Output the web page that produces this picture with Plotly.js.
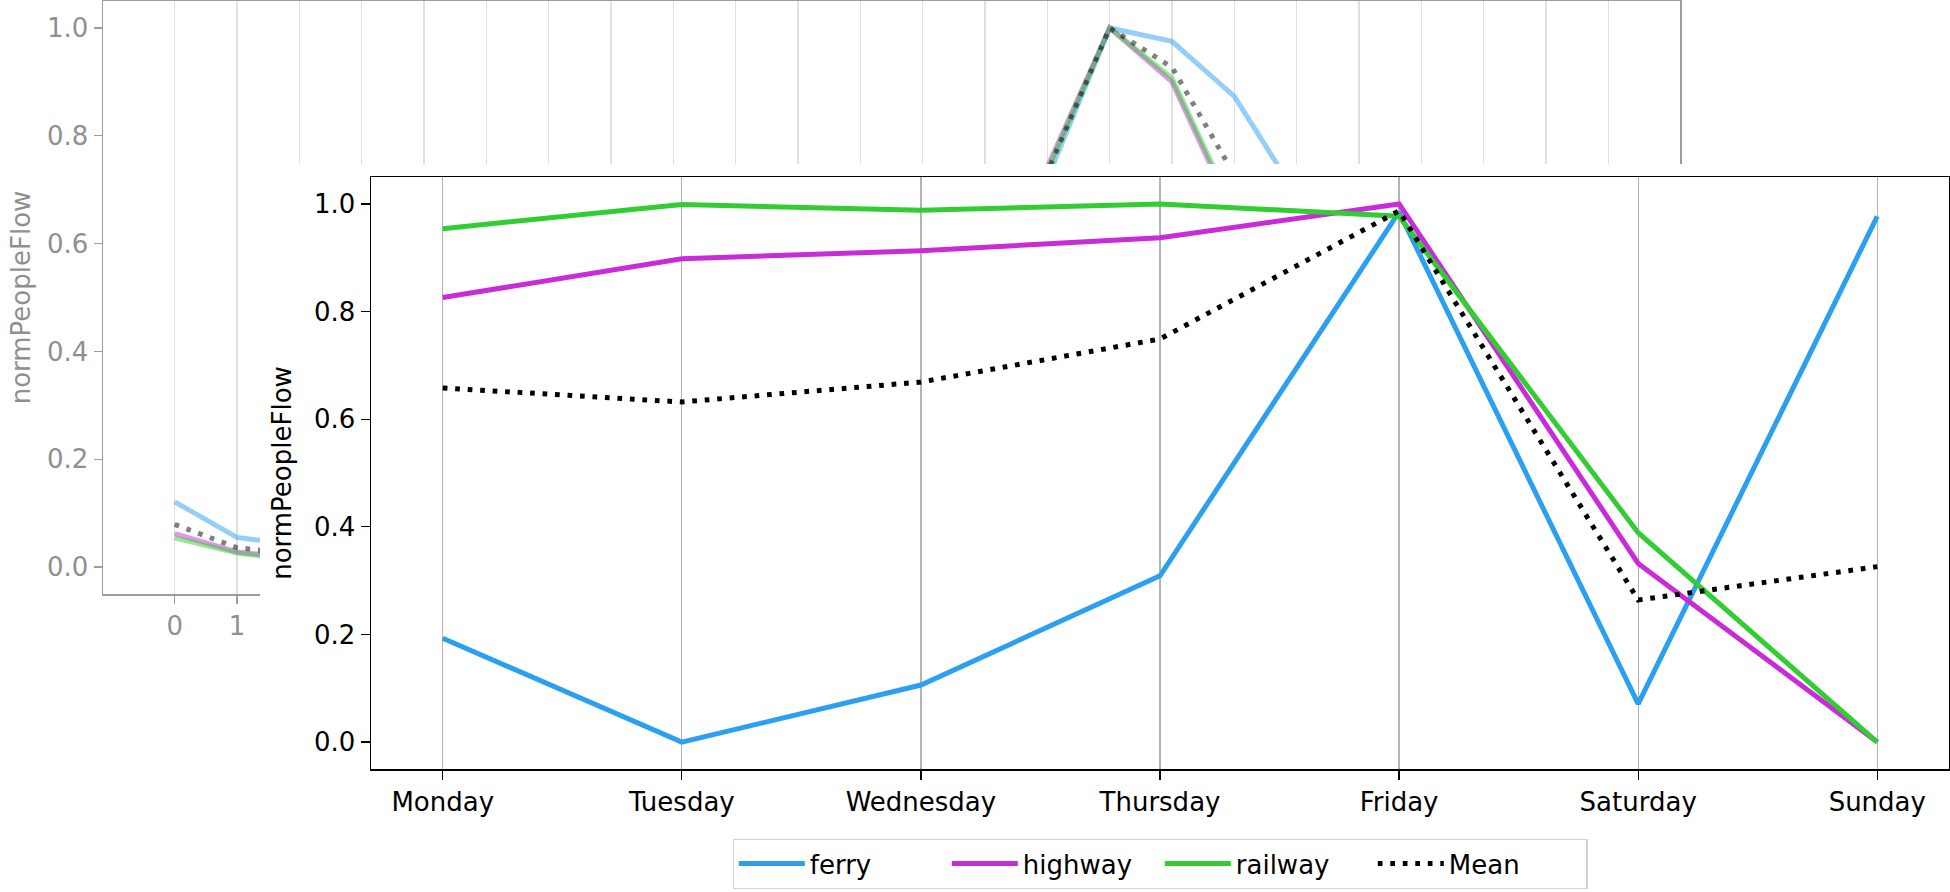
<!DOCTYPE html>
<html><head><meta charset="utf-8">
<script src="https://cdn.plot.ly/plotly-3.0.1.min.js"></script>
<style>
html,body{margin:0;padding:0;background:#fff;overflow:hidden;width:1950px;height:892px;}
#bg{position:absolute;left:0;top:0;width:1950px;height:892px;}
#inset{position:absolute;left:260px;top:164px;width:1690px;height:728px;}
</style></head><body>
<div id="bg"></div><div id="inset"></div>
<script>
// ---- background chart (hourly) ----
const hours = [0,1,2,3,4,5,6,7,8,9,10,11,12,13,14,15,16,17,18,19,20,21,22,23];
const ferryHour   = [0.121,0.055,0.040,0.035,0.040,0.080,0.180,0.330,0.450,0.520,0.570,0.600,0.630,0.670,0.720,1.000,0.975,0.873,0.690,0.550,0.430,0.340,0.260,0.190];
const highwayHour = [0.062,0.028,0.015,0.012,0.025,0.090,0.250,0.450,0.560,0.600,0.620,0.640,0.680,0.710,0.742,1.000,0.900,0.650,0.480,0.370,0.280,0.200,0.140,0.090];
const railwayHour = [0.054,0.026,0.013,0.010,0.022,0.085,0.240,0.440,0.550,0.590,0.610,0.630,0.670,0.700,0.735,1.000,0.907,0.660,0.470,0.360,0.270,0.190,0.130,0.080];
const meanHour    = [0.079,0.036,0.023,0.019,0.029,0.085,0.223,0.407,0.520,0.570,0.600,0.623,0.660,0.693,0.732,1.000,0.927,0.728,0.547,0.427,0.327,0.243,0.177,0.120];

// ---- inset chart (weekday) ----
const days = ['Monday','Tuesday','Wednesday','Thursday','Friday','Saturday','Sunday'];
const ferryDay   = [0.193,0.000,0.106,0.309,0.985,0.071,0.977];
const highwayDay = [0.826,0.898,0.913,0.937,1.000,0.332,0.000];
const railwayDay = [0.954,0.999,0.988,1.000,0.977,0.389,0.000];
const meanDay    = [0.658,0.632,0.669,0.749,0.987,0.264,0.326];

const yTicks = [0,0.2,0.4,0.6,0.8,1.0];
const yTickText = ['0.0','0.2','0.4','0.6','0.8','1.0'];

const names = ['ferry','highway','railway','Mean'];
const colors = ['#2b9ff0','#c92bd9','#32cd32','#000000'];
const FONT = 'DejaVu Sans, sans-serif';
const FS = 26;
const LW = 5;
const DOT = '4.7px,7.8px';

// background
const bgSeries = [ferryHour, highwayHour, railwayHour, meanHour];
const bgTraces = bgSeries.map((ys, i) => ({
  x: hours, y: ys, type: 'scatter', mode: 'lines', name: names[i], showlegend: false,
  opacity: 0.5,
  line: {color: colors[i], width: LW, dash: i === 3 ? DOT : 'solid'}
}));
const grayTxt = '#8f8f8f';
const bgLayout = {
  width: 1950, height: 892,
  margin: {l: 103, r: 270, t: 1, b: 298},
  paper_bgcolor: '#fff', plot_bgcolor: '#fff',
  showlegend: false,
  font: {family: FONT, size: FS, color: grayTxt},
  xaxis: {
    range: [-1.15, 24.15], tickmode: 'array', tickvals: hours,
    showgrid: true, gridcolor: '#e0e0e0', gridwidth: 1.3, zeroline: false,
    showline: true, linecolor: '#9c9c9c', linewidth: 1.5, mirror: true,
    ticks: 'outside', ticklen: 8, tickcolor: '#9c9c9c', tickwidth: 1.3,
    tickfont: {family: FONT, size: FS, color: grayTxt}
  },
  yaxis: {
    range: [-0.05, 1.05], tickmode: 'array', tickvals: yTicks, ticktext: yTickText,
    showgrid: false, zeroline: false,
    showline: true, linecolor: '#9c9c9c', linewidth: 1.5, mirror: true,
    ticks: 'outside', ticklen: 8, tickcolor: '#9c9c9c', tickwidth: 1.3,
    tickfont: {family: FONT, size: FS, color: grayTxt},
    title: {text: 'normPeopleFlow', font: {family: FONT, size: FS, color: grayTxt}, standoff: 9}
  }
};
Plotly.newPlot('bg', bgTraces, bgLayout, {staticPlot: true, displayModeBar: false});

// inset
const inSeries = [ferryDay, highwayDay, railwayDay, meanDay];
const inTraces = inSeries.map((ys, i) => ({
  x: days, y: ys, type: 'scatter', mode: 'lines', name: names[i],
  line: {color: colors[i], width: LW, dash: i === 3 ? DOT : 'solid'}
}));
const inLayout = {
  width: 1690, height: 728,
  margin: {l: 111, r: 1, t: 13, b: 123},
  paper_bgcolor: '#fff', plot_bgcolor: '#fff',
  font: {family: FONT, size: FS, color: '#000'},
  showlegend: true,
  legend: {
    orientation: 'h', x: 0.5, xanchor: 'center', y: -0.118, yanchor: 'top',
    font: {family: FONT, size: FS, color: '#000'},
    bgcolor: '#fff', bordercolor: '#d3d3d3', borderwidth: 1.3,
    itemwidth: 66, entrywidth: 132, entrywidthmode: 'pixels', traceorder: 'normal'
  },
  xaxis: {
    type: 'category', range: [-0.3, 6.3],
    showgrid: true, gridcolor: '#b3b3b3', gridwidth: 1.3, zeroline: false,
    showline: true, linecolor: '#000', linewidth: 1.5, mirror: true,
    ticks: 'outside', ticklen: 9, tickcolor: '#000', tickwidth: 1.3,
    tickfont: {family: FONT, size: FS, color: '#000'}
  },
  yaxis: {
    range: [-0.05, 1.05], tickmode: 'array', tickvals: yTicks, ticktext: yTickText,
    showgrid: false, zeroline: false,
    showline: true, linecolor: '#000', linewidth: 1.5, mirror: true,
    ticks: 'outside', ticklen: 9, tickcolor: '#000', tickwidth: 1.3,
    tickfont: {family: FONT, size: FS, color: '#000'},
    title: {text: 'normPeopleFlow', font: {family: FONT, size: FS, color: '#000'}, standoff: 15}
  }
};
Plotly.newPlot('inset', inTraces, inLayout, {staticPlot: true, displayModeBar: false});
</script>
</body></html>
